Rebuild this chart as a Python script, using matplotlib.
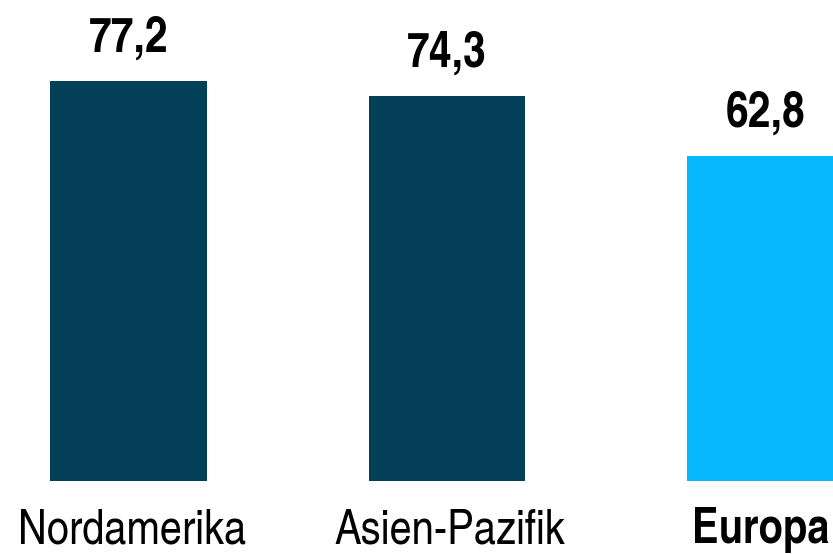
import matplotlib
matplotlib.use("Agg")
import matplotlib.pyplot as plt

regions = ["Nordamerika", "Asien-Pazifik", "Europa"]
values = [77.2, 74.3, 62.8]
labels = ["77,2", "74,3", "62,8"]
colors = ["#033f56", "#033f56", "#08b8fc"]
bold_cat = [False, False, True]

plt.rcParams["font.family"] = ["TeX Gyre Heros Cn", "Liberation Sans", "DejaVu Sans"]

px_per_unit = 5.18
fig = plt.figure(figsize=(8.33, 5.54), dpi=100)
ax = fig.add_axes([0, 1 - 481 / 554, 1, 481 / 554])

x = list(range(len(regions)))
ax.bar(x, values, width=0.49, color=colors)
for i, (v, t) in enumerate(zip(values, labels)):
    ax.text(i, v + 29 / px_per_unit, t, ha="center", va="baseline",
            fontsize=36, fontweight="bold")
for i, (r, b) in enumerate(zip(regions, bold_cat)):
    # bold label sits a little left in the original
    dx = -0.015 if b else 0.01
    ax.text(i + dx, -62 / px_per_unit, r, ha="center", va="baseline",
            fontsize=35, fontweight="bold" if b else "normal", clip_on=False)

ax.set_xlim(-128.5 / 318.5, (833 - 128.5) / 318.5)
ax.set_ylim(0, 481 / px_per_unit)
ax.set_xticks([])
ax.set_yticks([])
for s in ax.spines.values():
    s.set_visible(False)

fig.savefig("out.png", dpi=100)
